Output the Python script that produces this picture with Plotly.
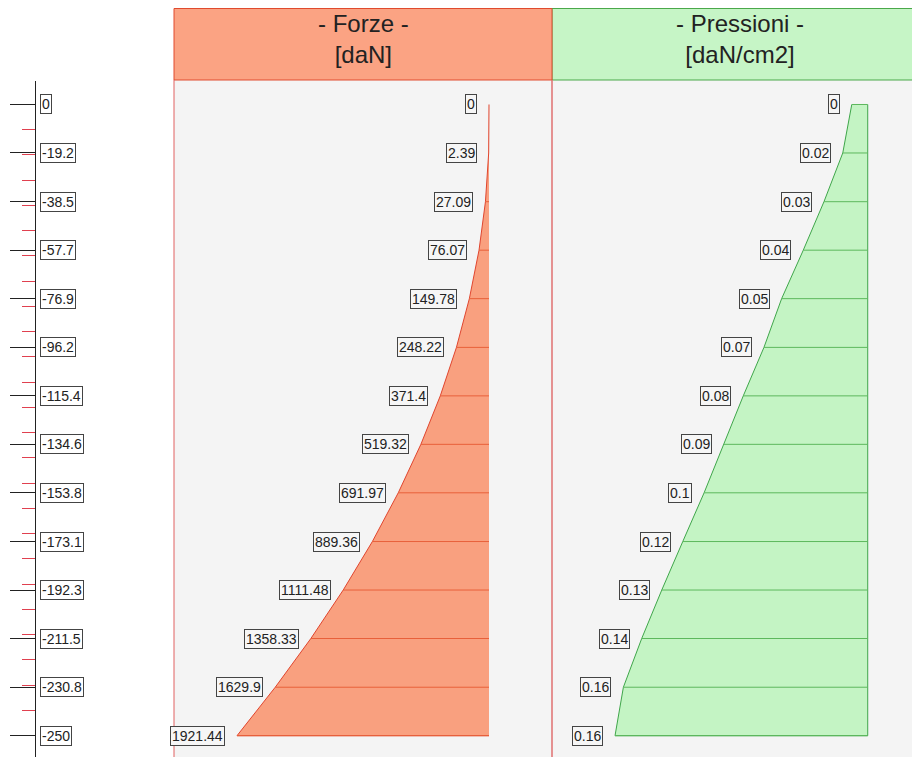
import plotly.graph_objects as go

depths = [0, -19.2, -38.5, -57.7, -76.9, -96.2, -115.4, -134.6, -153.8, -173.1, -192.3, -211.5, -230.8, -250]
forces = [0, 2.39, 27.09, 76.07, 149.78, 248.22, 371.4, 519.32, 691.97, 889.36, 1111.48, 1358.33, 1629.9, 1921.44]
pressures = [0.0101, 0.0158, 0.0277, 0.0408, 0.0545, 0.0657, 0.0788, 0.0910, 0.1036, 0.1171, 0.1304, 0.1431, 0.1547, 0.16]
pressure_labels = ["0", "0.02", "0.03", "0.04", "0.05", "0.07", "0.08", "0.09", "0.1", "0.12", "0.13", "0.14", "0.16", "0.16"]
depth_labels = [f"{d:g}" for d in depths]
force_labels = [f"{f:g}" for f in forces]

# la pagina ha 8px di margine: il grafico parte da (8, 8)
OFF = 8
W, H = 920 - OFF, 757 - OFF
FONT = "Arial, Liberation Sans, sans-serif"


def px(x):
    return (x - OFF) / W


def py(y):
    return 1 - (y - OFF) / H


# valore in cima al riquadro (y=OFF) e in fondo (y=OFF+H), scala 2.525 px/cm
Y_TOP = (104.5 - OFF) / 2.525
Y_BOT = -250 - (OFF + H - 735.7) / 2.525

fig = go.Figure()

# --- Forze ---
fig.add_trace(go.Scatter(
    x=forces + [0], y=depths + [depths[-1]], xaxis="x2", yaxis="y",
    mode="lines", fill="toself", fillcolor="#F9A07F",
    line=dict(color="#E0452E", width=1), hoverinfo="skip"))
hx, hy = [], []
for f, d in zip(forces, depths):
    hx += [f, 0, None]
    hy += [d, d, None]
fig.add_trace(go.Scatter(x=hx, y=hy, xaxis="x2", yaxis="y", mode="lines",
                         line=dict(color="#E8603A", width=1), hoverinfo="skip"))

# --- Pressioni ---
fig.add_trace(go.Scatter(
    x=pressures + [0, 0], y=depths + [depths[-1], depths[0]], xaxis="x3", yaxis="y",
    mode="lines", fill="toself", fillcolor="#C4F4C4",
    line=dict(color="#3FA64A", width=1), hoverinfo="skip"))
hx, hy = [], []
for p, d in zip(pressures, depths):
    hx += [p, 0, None]
    hy += [d, d, None]
fig.add_trace(go.Scatter(x=hx, y=hy, xaxis="x3", yaxis="y", mode="lines",
                         line=dict(color="#5DB85D", width=1), hoverinfo="skip"))

# traccia invisibile per l'asse delle profondità
fig.add_trace(go.Scatter(x=[None] * len(depths), y=depths, xaxis="x", yaxis="y2",
                         mode="markers", marker=dict(opacity=0), hoverinfo="skip"))

ann = []
box = dict(bordercolor="#444", borderwidth=1, borderpad=1, showarrow=False,
           font=dict(family=FONT, size=14, color="#222"))
for d, t in zip(depths, depth_labels):
    ann.append(dict(text=t, x=px(40), xref="paper", y=d, yref="y", xanchor="left",
                    yanchor="middle", bgcolor="#FFFFFF", **box))
for f, d, t in zip(forces, depths, force_labels):
    ann.append(dict(text=t, x=f, xref="x2", y=d, yref="y", xanchor="right", xshift=-12,
                    yanchor="middle", bgcolor="#F6F6F6", **box))
for p, d, t in zip(pressures, depths, pressure_labels):
    ann.append(dict(text=t, x=p, xref="x3", y=d, yref="y", xanchor="right", xshift=-12,
                    yanchor="middle", bgcolor="#F6F6F6", **box))

ann.append(dict(text="- Forze -<br>[daN]", x=px(363), y=py(39), xref="paper", yref="paper",
                xanchor="center", yanchor="middle", showarrow=False,
                font=dict(family=FONT, size=24, color="#222")))
ann.append(dict(text="- Pressioni -<br>[daN/cm2]", x=px(740), y=py(39), xref="paper", yref="paper",
                xanchor="center", yanchor="middle", showarrow=False,
                font=dict(family=FONT, size=24, color="#222")))

shapes = [
    dict(type="rect", xref="paper", yref="paper", x0=px(174), x1=1.01, y0=-0.02, y1=py(80),
         fillcolor="#F4F4F4", line=dict(width=0), layer="below"),
    dict(type="rect", xref="paper", yref="paper", x0=px(552), x1=1.01, y0=py(80), y1=py(8.5),
         fillcolor="#C6F5C6", line=dict(color="#4AA84A", width=1), layer="below"),
    dict(type="rect", xref="paper", yref="paper", x0=px(174), x1=px(552), y0=py(80), y1=py(8.5),
         fillcolor="#FBA383", line=dict(color="#E04A2E", width=1), layer="below"),
    dict(type="line", xref="paper", yref="paper", x0=px(174), x1=px(174), y0=-0.02, y1=py(80),
         line=dict(color="#E06060", width=1)),
    dict(type="line", xref="paper", yref="paper", x0=px(552), x1=px(552), y0=-0.02, y1=py(80),
         line=dict(color="#E07070", width=1.5)),
]

hidden = dict(showgrid=False, zeroline=False, showticklabels=False, ticks="", showline=False)
fig.update_layout(
    width=W, height=H, margin=dict(l=0, r=0, t=0, b=0),
    paper_bgcolor="white", plot_bgcolor="rgba(0,0,0,0)", showlegend=False,
    xaxis=dict(domain=[0, px(174)], range=[0, 174], **hidden),
    xaxis2=dict(domain=[px(174), px(552)], range=[2401.9, -480.4], anchor="y", **hidden),
    xaxis3=dict(domain=[px(552), 1], range=[0.1999, -0.0331], anchor="y", **hidden),
    yaxis=dict(domain=[0, 1], range=[Y_BOT, Y_TOP], anchor="x2", **hidden),
    yaxis2=dict(domain=[0, py(81)], range=[Y_BOT, (104.5 - 81) / 2.525], anchor="free", position=px(35),
                showgrid=False, zeroline=False, showticklabels=False, showline=True,
                linecolor="#222", linewidth=1, ticks="outside", tickvals=depths,
                ticklen=25, tickcolor="#222", tickwidth=1,
                minor=dict(ticks="outside", tick0=0, dtick=10, ticklen=13,
                           tickcolor="#E0404F", tickwidth=1)),
    annotations=ann, shapes=shapes,
)

fig.write_html("out.html")
